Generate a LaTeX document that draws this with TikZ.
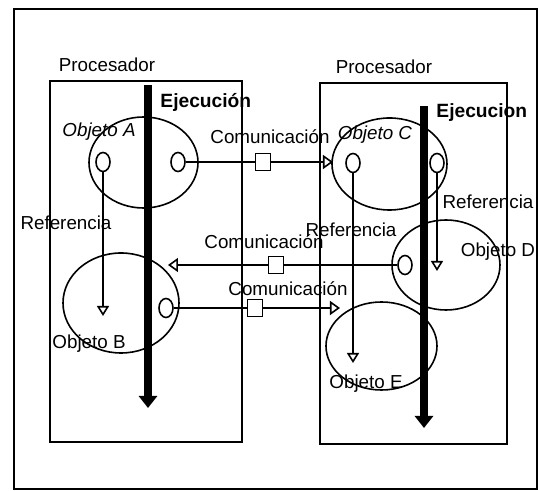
\documentclass[tikz,border=0pt]{standalone}
\usepackage{fontspec}
\setmainfont{Liberation Sans}
\usetikzlibrary{shapes.geometric,arrows.meta,positioning}

\begin{document}
\begin{tikzpicture}[x=0.5pt, y=-0.5pt, line width=0.8pt,
    every node/.style={font=\fontsize{9.4}{11}\selectfont},
    objeto/.style={draw, ellipse, inner sep=0pt},
    puerto/.style={draw, ellipse, minimum width=7pt, minimum height=9.5pt, inner sep=0pt},
    mensaje/.style={draw, rectangle, minimum width=7.5pt, minimum height=8.5pt, inner sep=0pt},
    ejec/.style={line width=4pt, -{Triangle[width=9pt, length=6pt]}},
    refer/.style={-{Triangle[open, width=6pt, length=5pt]}},
    comu/.style={-{Triangle[open, width=7pt, length=5pt]}}]
    \useasboundingbox (0,0) rectangle (538,491);

    % marco y procesadores
    \draw[line width=1pt] (14,9) rectangle (537,489);
    \draw (50,81) rectangle (242,442);
    \draw (320,83) rectangle (507,444);
    \node (procL) at (107,65) {Procesador};
    \node (procR) at (384,67) {Procesador};

    % objetos
    \node[objeto, minimum width=54.5pt, minimum height=45.5pt] (obA) at (143.5,162.5) {};
    \node[objeto, minimum width=58pt, minimum height=50pt] (obB) at (121,303) {};
    \node[objeto, minimum width=57.5pt, minimum height=46pt] (obC) at (389.5,164) {};
    \node[objeto, minimum width=54pt, minimum height=45pt] (obD) at (446,265) {};
    \node[objeto, minimum width=55.5pt, minimum height=44pt] (obE) at (381.5,346) {};
    \node[font=\fontsize{9.4}{11}\selectfont\itshape] (txA) at (99,132) {Objeto A};
    \node (txB) at (89,344) {Objeto B};
    \node[font=\fontsize{9.4}{11}\selectfont\itshape] (txC) at (375,135) {Objeto C};
    \node (txD) at (498,252) {Objeto D};
    \node (txE) at (366,384) {Objeto E};

    % hilos de ejecucion
    \draw[ejec] (148,85) -- (148,408);
    \draw[ejec] (424,106) -- (424,428);
    \node[anchor=west, font=\fontsize{9.6}{11}\selectfont\bfseries] (ejL) at (153,102) {Ejecución};
    \node[anchor=west, font=\fontsize{9.6}{11}\selectfont\bfseries] (ejR) at (429,113) {Ejecucion};

    % puertos
    \node[puerto] (pA1) at (103,162) {};
    \node[puerto] (pA2) at (178,162) {};
    \node[puerto] (pB) at (166,308) {};
    \node[puerto] (pC1) at (353,163) {};
    \node[puerto] (pC2) at (437,163) {};
    \node[puerto] (pD) at (405,265) {};

    % referencias
    \coordinate (tipB) at (103,316);
    \coordinate (tipE) at (353,363);
    \coordinate (tipD) at (437,271);
    \draw[refer] (pA1) -- (tipB);
    \draw[refer] (pC1) -- (tipE);
    \draw[refer] (pC2) -- (tipD);
    \node (refA) at (66,223) {Referencia};
    \node (refC) at (351,230) {Referencia};
    \node (refD) at (488,202) {Referencia};

    % comunicaciones
    \node[mensaje] (msg1) at (263,162) {};
    \node[mensaje] (msg2) at (276,265) {};
    \node[mensaje] (msg3) at (255,308) {};
    \coordinate (tipC) at (333,162);
    \coordinate (tipB2) at (168,265);
    \coordinate (tipE2) at (340,308);
    \draw (pA2) -- (msg1);
    \draw[comu] (msg1) -- (tipC);
    \draw (pD) -- (msg2);
    \draw[comu] (msg2) -- (tipB2);
    \draw (pB) -- (msg3);
    \draw[comu] (msg3) -- (tipE2);
    \node (com1) at (270,137) {Comunicación};
    \node (com2) at (264,242) {Comunicación};
    \node (com3) at (288,289) {Comunicación};
\end{tikzpicture}
\end{document}
